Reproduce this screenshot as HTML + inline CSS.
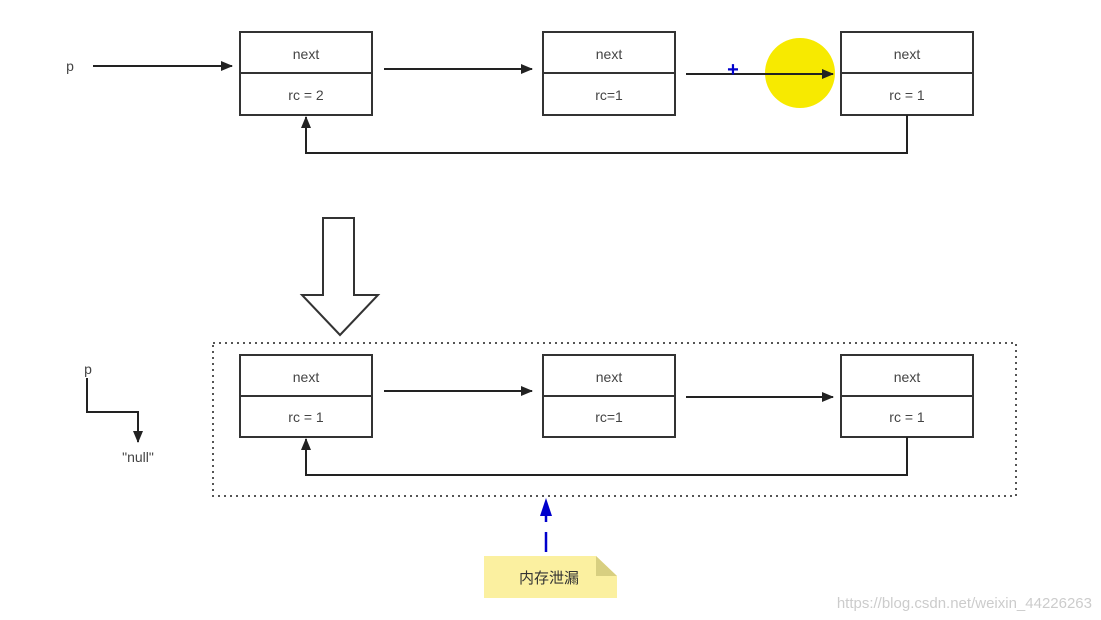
<!DOCTYPE html>
<html><head><meta charset="utf-8"><style>body{margin:0;background:#fff}svg{display:block}</style></head><body>
<svg width="1101" height="620" xmlns="http://www.w3.org/2000/svg" font-family="Liberation Sans, sans-serif">
<defs><marker id="a" markerWidth="12" markerHeight="10" refX="11" refY="5" orient="auto" markerUnits="userSpaceOnUse"><path d="M0,0 L12,5 L0,10 Z" fill="#222"/></marker></defs>
<circle cx="800" cy="73" r="35" fill="#f7ea00"/>
<g fill="#fff" stroke="#333" stroke-width="2">
<rect x="240" y="32" width="132" height="83"/><line x1="240" y1="73" x2="372" y2="73"/>
<rect x="543" y="32" width="132" height="83"/><line x1="543" y1="73" x2="675" y2="73"/>
<rect x="841" y="32" width="132" height="83"/><line x1="841" y1="73" x2="973" y2="73"/>
<rect x="240" y="355" width="132" height="82"/><line x1="240" y1="396" x2="372" y2="396"/>
<rect x="543" y="355" width="132" height="82"/><line x1="543" y1="396" x2="675" y2="396"/>
<rect x="841" y="355" width="132" height="82"/><line x1="841" y1="396" x2="973" y2="396"/>
</g>
<g fill="none" stroke="#222" stroke-width="2">
<line x1="93" y1="66" x2="232" y2="66" marker-end="url(#a)"/>
<line x1="384" y1="69" x2="532" y2="69" marker-end="url(#a)"/>
<line x1="686" y1="74" x2="833" y2="74" marker-end="url(#a)"/>
<path d="M907,115 V153 H306 V117" marker-end="url(#a)"/>
<line x1="384" y1="391" x2="532" y2="391" marker-end="url(#a)"/>
<line x1="686" y1="397" x2="833" y2="397" marker-end="url(#a)"/>
<path d="M907,437 V475 H306 V439" marker-end="url(#a)"/>
<path d="M87,378 V412 H138 V442" marker-end="url(#a)"/>
</g>
<rect x="213" y="343" width="803" height="153" fill="none" stroke="#555" stroke-width="2" stroke-dasharray="2,4"/>
<path d="M323,218 H354 V295 H378 L340,335 L302,295 H323 Z" fill="#fff" stroke="#333" stroke-width="2"/>
<line x1="546" y1="552" x2="546" y2="532" stroke="#00c" stroke-width="2.5"/>
<line x1="546" y1="522" x2="546" y2="510" stroke="#00c" stroke-width="2.5"/>
<path d="M540,516 L546,498 L552,516 Z" fill="#00c"/>
<path d="M484,556 H596 L617,576 V598 H484 Z" fill="#fbf0a0"/>
<path d="M596,556 V576 H617 Z" fill="#d8cf80"/>
<g font-size="14" fill="#444" text-anchor="middle">
<text x="306" y="59">next</text><text x="306" y="100">rc = 2</text>
<text x="609" y="59">next</text><text x="609" y="100">rc=1</text>
<text x="907" y="59">next</text><text x="907" y="100">rc = 1</text>
<text x="306" y="382">next</text><text x="306" y="422">rc = 1</text>
<text x="609" y="382">next</text><text x="609" y="422">rc=1</text>
<text x="907" y="382">next</text><text x="907" y="422">rc = 1</text>
<text x="70" y="71">p</text><text x="88" y="374">p</text>
<text x="138" y="462">"null"</text>
</g>
<text x="733" y="76" font-size="20" fill="#00c" text-anchor="middle" font-weight="bold">+</text>
<text x="549" y="583" font-size="15" fill="#333" text-anchor="middle" font-family="Liberation Sans, Noto Sans CJK SC, sans-serif">内存泄漏</text>
<text x="1092" y="608" font-size="15" fill="#ccc" text-anchor="end">https://blog.csdn.net/weixin_44226263</text>
</svg>
</body></html>
